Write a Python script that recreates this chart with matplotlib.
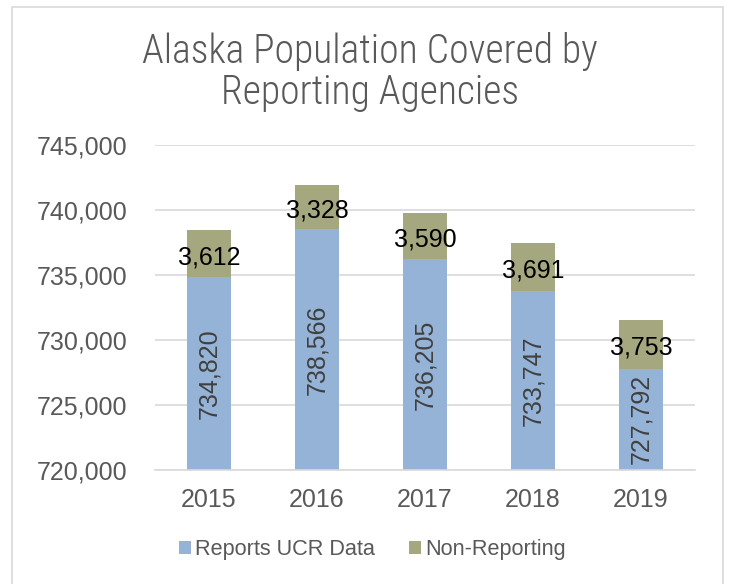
import matplotlib.pyplot as plt
from matplotlib.patches import Rectangle
from matplotlib.ticker import FuncFormatter
import numpy as np

years = ['2015', '2016', '2017', '2018', '2019']
reporting = [734820, 738566, 736205, 733747, 727792]
non_reporting = [3612, 3328, 3590, 3691, 3753]

base = 720000
blue = '#95B3D7'
olive = '#A5A87F'
grey_txt = '#595959'
lab_font = 'Liberation Sans'

fig = plt.figure(figsize=(7.29, 5.84), dpi=100)
# light frame round the chart
fig.patches.append(Rectangle((12 / 729, -0.01), (723 - 12) / 729, (584 - 7) / 584 + 0.01,
                             transform=fig.transFigure, fill=False,
                             edgecolor='#D9D9D9', linewidth=1.2))

ax = fig.add_axes([155 / 729, 1 - 470 / 584, 540 / 729, 325 / 584])
x = np.arange(len(years))
w = 0.4
rep_h = [r - base for r in reporting]
b1 = ax.bar(x, rep_h, w, bottom=base, color=blue, label='Reports UCR Data', zorder=2)
b2 = ax.bar(x, non_reporting, w, bottom=reporting, color=olive, label='Non-Reporting', zorder=2)

for i in range(len(years)):
    ax.text(x[i], base + rep_h[i] / 2, f'{reporting[i]:,}', rotation=90,
            ha='center', va='center', fontsize=18, color='#404040',
            family=lab_font, zorder=3)
    ax.text(x[i], reporting[i] + non_reporting[i] / 2 - 250, f'{non_reporting[i]:,}',
            ha='center', va='center', fontsize=18, color='black',
            family=lab_font, zorder=3)

ax.set_xlim(-0.5, 4.5)
ax.set_ylim(720000, 745000)
ax.set_yticks(np.arange(720000, 745001, 5000))
ax.yaxis.set_major_formatter(FuncFormatter(lambda v, p: f'{int(v):,}'))
ax.set_xticks(x)
ax.set_xticklabels(years)
ax.grid(axis='y', color='#D9D9D9', linewidth=1.2, zorder=0)
for s in ['top', 'right', 'left']:
    ax.spines[s].set_visible(False)
ax.spines['bottom'].set_color('#D9D9D9')
ax.spines['bottom'].set_linewidth(1.2)
ax.tick_params(length=0, labelsize=18, labelcolor=grey_txt)
ax.tick_params(axis='x', pad=13)
ax.tick_params(axis='y', pad=20)
for lab in ax.get_xticklabels() + ax.get_yticklabels():
    lab.set_family(lab_font)

fig.text(0.507, 1 - 72 / 584, 'Alaska Population Covered by\nReporting Agencies',
         ha='center', va='center', fontsize=28.5, color=grey_txt,
         family='Roboto Condensed', fontweight='light', linespacing=1.1)

fig.legend(handles=[b1, b2], loc='center', bbox_to_anchor=(0.511, 1 - 550 / 584),
           ncol=2, frameon=False, labelcolor=grey_txt,
           handlelength=0.55, handleheight=0.55, handletextpad=0.2, columnspacing=1.6,
           prop={'family': lab_font, 'size': 15.6})

fig.savefig('out.png', dpi=100)
